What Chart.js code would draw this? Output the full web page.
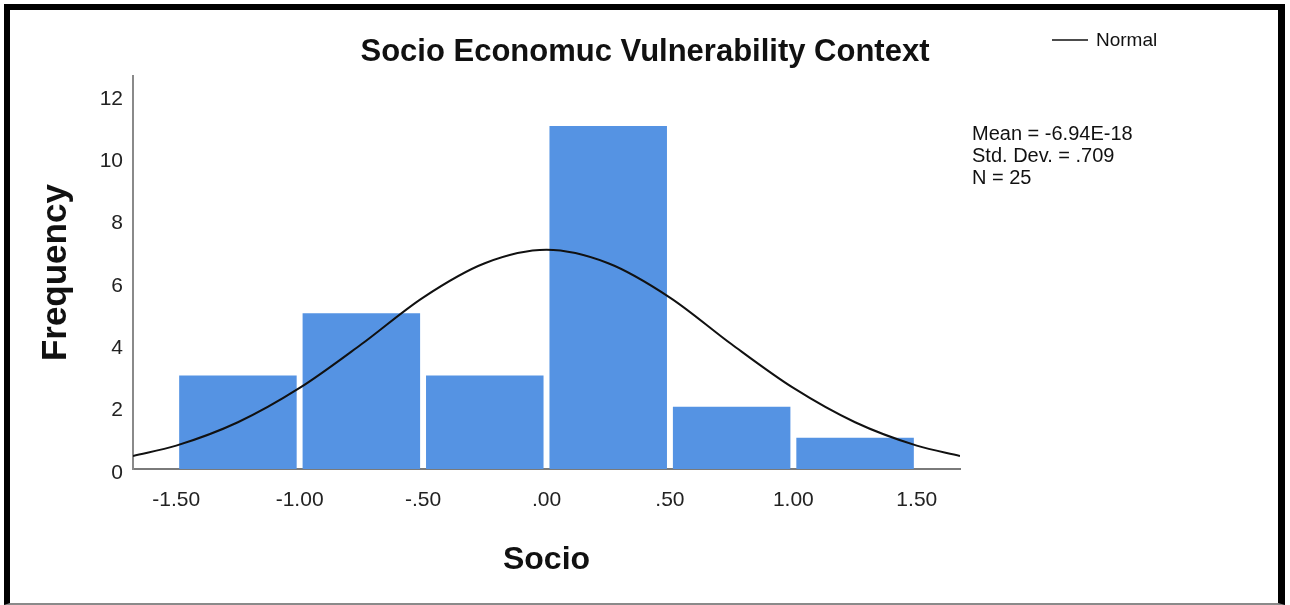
<!DOCTYPE html>
<html>
<head>
<meta charset="utf-8">
<title>Socio Economuc Vulnerability Context</title>
<script src="https://cdn.jsdelivr.net/npm/chart.js@4.4.1/dist/chart.umd.min.js"></script>
<style>
    html, body { margin: 0; padding: 0; background: #fff; }
    #wrap { position: relative; width: 1290px; height: 605px; }
    #wrap canvas { position: absolute; left: 0; top: 0; }
    #frame {
        position: absolute; left: 4px; top: 4px; width: 1281px; height: 601px;
        box-sizing: border-box; pointer-events: none;
        border-left: 6px solid #000; border-top: 6px solid #000; border-right: 7px solid #000;
        border-bottom: 2px solid #8a8a8a;
    }
</style>
</head>
<body>
<div id="wrap">
    <canvas id="histChart" width="1290" height="605"></canvas>
    <div id="frame"></div>
</div>
<script>
// Histogram bins (centres) and counts
const binCentres = [-1.25, -0.75, -0.25, 0.25, 0.75, 1.25];
const frequencies = [3, 5, 3, 11, 2, 1];

// Normal curve read along the x axis
const curveX = [-1.675, -1.5, -1.25, -1.0, -0.75, -0.5, -0.25, 0, 0.25, 0.5, 0.75, 1.0, 1.25, 1.5, 1.675];
const curveY = [0.42, 0.75, 1.5, 2.6, 4.0, 5.5, 6.6, 7.03, 6.6, 5.5, 4.0, 2.6, 1.5, 0.75, 0.42];

const statLines = ['Mean = -6.94E-18', 'Std. Dev. = .709', 'N = 25'];
const legendLabel = 'Normal';

const FONT = "'Liberation Sans', Arial, sans-serif";

// SPSS style tick text: drop the leading zero (.50, -.50, .00)
function spssLabel(v) {
    let s = Math.abs(v).toFixed(2);
    if (s.startsWith('0')) s = s.slice(1);
    return (v < -1e-9 ? '-' : '') + s;
}

// Legend sample and the summary statistics on the right
const sidePanel = {
    id: 'sidePanel',
    afterDraw(chart) {
        const ctx = chart.ctx;
        ctx.save();
        ctx.strokeStyle = '#111';
        ctx.lineWidth = 1.5;
        ctx.beginPath();
        ctx.moveTo(1052, 40);
        ctx.lineTo(1088, 40);
        ctx.stroke();

        ctx.fillStyle = '#111';
        ctx.textBaseline = 'middle';
        ctx.textAlign = 'left';
        ctx.font = '19px ' + FONT;
        ctx.fillText(legendLabel, 1096, 41);

        ctx.font = '20px ' + FONT;
        statLines.forEach((t, i) => ctx.fillText(t, 972, 134 + i * 22));
        ctx.restore();
    }
};

const data = {
    datasets: [{
        type: 'line',
        label: legendLabel,
        data: curveX.map((x, i) => ({ x: x, y: curveY[i] })),
        borderColor: '#111',
        borderWidth: 2,
        pointRadius: 0,
        cubicInterpolationMode: 'monotone',
        fill: false
    }, {
        type: 'bar',
        label: 'Frequency',
        data: binCentres.map((x, i) => ({ x: x, y: frequencies[i] })),
        backgroundColor: '#5593e3',
        borderWidth: 0,
        barPercentage: 0.952,
        categoryPercentage: 1.0
    }]
};

const config = {
    data: data,
    plugins: [sidePanel],
    options: {
        responsive: false,
        animation: false,
        layout: { padding: 0 },
        plugins: {
            legend: { display: false },
            tooltip: { enabled: false },
            title: {
                display: true,
                text: 'Socio Economuc Vulnerability Context',
                color: '#111',
                font: { family: FONT, size: 31, weight: 'bold' },
                padding: { top: 34, bottom: 5 }
            }
        },
        scales: {
            x: {
                type: 'linear',
                min: -1.675,
                max: 1.675,
                offset: false,
                grid: { display: false, drawTicks: false },
                border: { display: true, color: '#7a7a7a', width: 2 },
                ticks: {
                    stepSize: 0.5,
                    includeBounds: false,
                    padding: 19,
                    color: '#222',
                    font: { family: FONT, size: 21 },
                    callback: v => spssLabel(v)
                },
                title: {
                    display: true,
                    text: 'Socio',
                    color: '#111',
                    font: { family: FONT, size: 32, weight: 'bold' },
                    padding: { top: 4, bottom: 26 }
                },
                afterFit(scale) { scale.height = 136; }
            },
            y: {
                position: 'left',
                min: 0,
                max: 12.6,
                grid: { display: false, drawTicks: false },
                border: { display: true, color: '#8a8a8a', width: 2 },
                ticks: {
                    stepSize: 2,
                    includeBounds: false,
                    padding: 10,
                    labelOffset: 4,
                    color: '#222',
                    font: { family: FONT, size: 21 }
                },
                title: {
                    display: true,
                    text: 'Frequency',
                    color: '#111',
                    font: { family: FONT, size: 35, weight: 'bold' },
                    padding: { top: 35, bottom: 4 }
                },
                afterFit(scale) { scale.width = 133; }
            },
            // empty right-hand strip that holds the legend and statistics
            side: {
                position: 'right',
                display: true,
                grid: { display: false, drawTicks: false },
                border: { display: false },
                ticks: { display: false },
                afterFit(scale) { scale.width = 330; }
            }
        }
    }
};

const histChart = new Chart(document.getElementById('histChart'), config);
</script>
</body>
</html>
